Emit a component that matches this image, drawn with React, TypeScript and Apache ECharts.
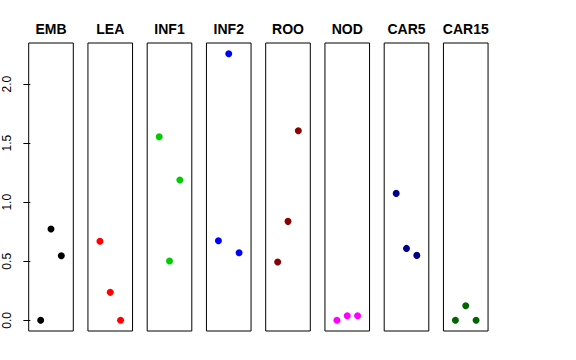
import React, { useEffect, useRef } from "react";
import * as echarts from "echarts";

const panels = ["EMB", "LEA", "INF1", "INF2", "ROO", "NOD", "CAR5", "CAR15"];
const panelColors = ["#000000", "#FF0000", "#00CD00", "#0000FF", "#8B0000", "#FF00FF", "#00008B", "#006400"];
const xPositions = [1, 2, 3];
const valuesEMB = [0.0, 0.773, 0.547];
const valuesLEA = [0.669, 0.237, 0.0];
const valuesINF1 = [1.555, 0.502, 1.188];
const valuesINF2 = [0.674, 2.258, 0.573];
const valuesROO = [0.494, 0.838, 1.606];
const valuesNOD = [0.0, 0.039, 0.039];
const valuesCAR5 = [1.075, 0.609, 0.55];
const valuesCAR15 = [0.0, 0.124, 0.0];
const allValues = [valuesEMB, valuesLEA, valuesINF1, valuesINF2, valuesROO, valuesNOD, valuesCAR5, valuesCAR15];
const yTicks = [0, 0.5, 1.0, 1.5, 2.0];

export default function App() {
  const ref = useRef<HTMLDivElement>(null);
  useEffect(() => {
    if (!ref.current) return;
    const chart = echarts.init(ref.current, undefined, { renderer: "svg" });
    const dataMax = Math.max(...allValues.flat());
    const dataMin = 0;
    const ext = (dataMax - dataMin) * 0.04;
    const yMin = dataMin - ext;
    const yMax = dataMax + ext;
    const left0 = 28.7;
    const pitch = 59.25;
    const pw = 44.6;
    const top = 43;
    const height = 288;
    const grids: any[] = [];
    const xAxes: any[] = [];
    const yAxes: any[] = [];
    const series: any[] = [];
    const graphics: any[] = [];
    panels.forEach((name, i) => {
      const left = left0 + i * pitch;
      grids.push({ left, top, width: pw, height, show: true, borderColor: "#000", borderWidth: 1, backgroundColor: "transparent", containLabel: false });
      xAxes.push({ type: "value", gridIndex: i, min: -0.16, max: 4.16, show: false });
      yAxes.push({
        type: "value",
        gridIndex: i,
        min: yMin,
        max: yMax,
        show: i === 0,
        splitLine: { show: false },
        axisLine: { show: false },
        axisTick: { show: i === 0, inside: false, length: 7, lineStyle: { color: "#000" }, customValues: yTicks },
        axisLabel: {
          show: i === 0,
          customValues: yTicks,
          rotate: 90,
          margin: 16,
          color: "#000",
          fontSize: 12,
          fontFamily: "Liberation Sans, Arial, sans-serif",
          formatter: (v: number) => v.toFixed(1),
        },
      });
      series.push({
        type: "scatter",
        xAxisIndex: i,
        yAxisIndex: i,
        symbol: "circle",
        symbolSize: 7,
        itemStyle: { color: panelColors[i], opacity: 1 },
        data: xPositions.map((x, j) => [x, allValues[i][j]]),
      });
      graphics.push({
        type: "text",
        x: left + pw / 2,
        y: 28.7,
        style: {
          text: name,
          align: "center",
          verticalAlign: "middle",
          font: "bold 14px 'Liberation Sans', Arial, sans-serif",
          fill: "#000",
        },
      });
    });
    chart.setOption({
      animation: false,
      backgroundColor: "#fff",
      grid: grids,
      xAxis: xAxes,
      yAxis: yAxes,
      series,
      graphic: graphics,
    });
    return () => chart.dispose();
  }, []);
  return <div ref={ref} style={{ width: 576, height: 360, position: "absolute", left: 0, top: 0 }} />;
}
